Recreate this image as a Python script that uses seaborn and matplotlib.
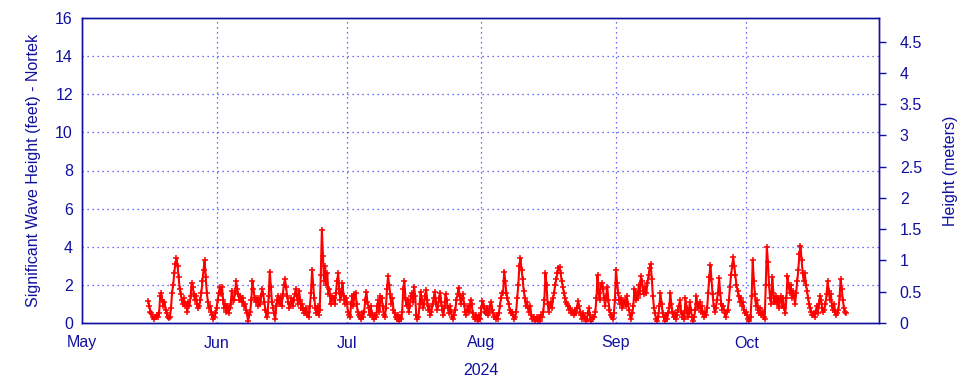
import numpy as np
import pandas as pd
import matplotlib
matplotlib.use("Agg")
import matplotlib.pyplot as plt
from matplotlib.ticker import FixedLocator, FuncFormatter
import seaborn as sns

# ---- data: significant wave height (feet), 6-hourly readings ----
start_time = "2024-05-16 06:00"
step_hours = 6

hs_may = [1.15, 0.9, 0.6,
          0.5, 0.3, 0.2, 0.3,
          0.3, 0.4, 0.3, 0.5,
          1.4, 1.55, 1.2, 0.9,
          1.1, 0.7, 0.5, 0.3,
          0.25, 0.3, 0.8, 1.6,
          2.0, 2.6, 3.1, 3.4,
          3.0, 2.4, 1.8, 1.5,
          1.2, 1.0, 1.3, 0.9,
          1.0, 0.6, 1.1, 0.9,
          1.4, 2.1, 1.9, 1.5,
          1.2, 1.4, 1.0, 0.8,
          0.9, 1.2, 1.6, 2.2,
          2.8, 3.3, 2.4, 1.6,
          1.1, 0.8, 0.9, 0.6,
          0.4, 0.2, 0.3, 0.5]
hs_jun = [0.8, 1.2, 1.6, 1.9,
          1.5, 1.9, 1.2, 0.8,
          1.0, 0.6, 0.9, 0.5,
          0.8, 1.0, 1.7, 1.2,
          1.2, 1.6, 2.2, 1.8,
          1.5, 1.2, 1.4, 1.1,
          1.3, 0.9, 1.0, 0.7,
          0.5, 0.1, 0.4, 0.6,
          1.2, 2.2, 1.8, 1.3,
          1.1, 1.3, 0.9, 1.2,
          1.0, 1.4, 1.8, 1.5,
          1.1, 0.7, 0.3, 0.5,
          1.4, 2.7, 1.9, 1.1,
          0.8, 0.5, 0.2, 0.9,
          1.2, 1.4, 1.0, 1.3,
          0.9, 1.5, 2.0, 2.3,
          1.9, 1.4, 1.1, 0.8,
          1.0, 1.3, 0.9, 1.2,
          1.5, 1.8, 1.4, 1.0,
          1.7, 1.2, 0.8, 1.0,
          0.7, 0.5, 0.8, 0.4,
          0.6, 0.3, 0.9, 1.6,
          2.8, 2.0, 1.3, 0.8,
          0.5, 0.9, 0.4, 0.7,
          2.5, 4.9, 3.5, 2.2,
          3.0, 2.0, 2.6, 1.5,
          1.8, 1.0, 1.4, 1.2,
          1.3, 1.0, 1.6, 2.2,
          2.6, 1.8, 1.2, 1.5,
          2.1, 1.4, 1.0, 1.3]
hs_jul = [1.1, 0.6, 0.4, 0.3,
          1.0, 1.4, 0.9, 1.5,
          1.6, 1.0, 0.6, 0.4,
          0.3, 0.2, 0.5, 0.3,
          0.6, 1.2, 1.65, 1.1,
          0.8, 0.4, 0.9, 0.5,
          0.3, 0.2, 0.4, 0.3,
          0.9, 1.2, 0.6, 1.4,
          1.3, 0.9, 0.4, 0.3,
          0.8, 1.8, 2.45, 2.0,
          1.5, 1.0, 1.3, 0.7,
          0.5, 0.3, 0.2, 0.4,
          0.1, 0.3, 0.2, 0.6,
          1.8, 2.2, 1.3, 0.9,
          1.2, 0.6, 0.9, 1.4,
          1.6, 1.1, 1.9, 1.4,
          0.4, 0.2, 0.3, 1.0,
          1.65, 1.2, 0.8, 1.0,
          1.4, 1.75, 1.2, 0.7,
          0.9, 0.4, 0.6, 1.0,
          1.3, 1.65, 1.1, 0.7,
          0.9, 1.3, 1.6, 1.1,
          0.7, 0.4, 0.9, 1.5,
          1.2, 0.8, 0.5, 0.9,
          0.6, 0.3, 0.2, 0.4,
          0.7, 1.2, 1.5, 1.85,
          1.4, 1.0, 1.3, 1.5,
          1.0, 0.6, 0.4, 0.7,
          0.9, 0.6, 1.2, 1.0,
          0.5, 0.3, 0.2, 0.4,
          0.3, 0.1, 0.4, 0.2]
hs_aug = [0.8, 1.15, 0.9, 0.6,
          0.5, 0.8, 0.4, 0.6,
          0.9, 1.1, 0.7, 0.5,
          0.3, 0.2, 0.4, 0.2,
          0.5, 0.9, 1.3, 1.6,
          1.6, 2.7, 2.2, 1.6,
          1.3, 1.0, 0.7, 0.5,
          0.6, 0.4, 0.2, 0.3,
          0.6, 1.3, 2.0, 3.0,
          3.4, 2.8, 2.3, 1.7,
          1.3, 0.9, 1.1, 0.8,
          0.6, 0.9, 0.4, 0.2,
          0.3, 0.1, 0.2, 0.3,
          0.15, 0.3, 0.1, 0.4,
          0.3, 0.6, 1.2, 2.6,
          2.0, 1.0, 0.6, 0.9,
          1.1, 0.8, 1.3, 1.6,
          2.0, 2.3, 2.6, 2.9,
          2.95, 2.6, 2.2, 1.9,
          1.6, 1.3, 1.1, 1.0,
          0.9, 0.7, 0.8, 0.5,
          0.6, 0.4, 0.7, 0.5,
          0.8, 1.15, 0.9, 0.6,
          0.4, 0.2, 0.5, 0.3,
          0.1, 0.2, 0.5, 0.8,
          0.4, 0.1, 0.2, 0.3,
          0.3, 0.6, 1.3, 2.5,
          1.6, 1.2, 2.0, 2.1,
          1.8, 1.3, 0.9, 1.4,
          1.9, 1.2, 0.7, 0.4,
          0.3, 0.2, 0.5, 1.2]
hs_sep = [2.8, 2.1, 1.6, 1.2,
          1.0, 1.3, 0.8, 1.1,
          1.2, 0.9, 1.4, 1.0,
          0.7, 0.4, 0.2, 0.5,
          0.9, 1.8, 1.2, 1.6,
          1.3, 2.0, 1.5, 2.45,
          2.2, 1.7, 1.5, 1.9,
          1.6, 2.1, 2.5, 2.9,
          3.1, 2.3, 1.4, 0.8,
          0.5, 0.2, 0.1, 0.3,
          0.9, 1.55, 1.0, 0.5,
          0.3, 0.1, 0.4, 0.2,
          0.5, 0.8, 1.55, 1.0,
          0.6, 0.3, 0.5, 0.2,
          0.4, 0.7, 0.9, 1.2,
          0.6, 0.3, 0.5, 0.2,
          1.3, 0.8, 0.3, 0.5,
          1.1, 0.7, 0.3, 0.1,
          0.3, 0.7, 1.4, 1.0,
          0.8, 1.1, 0.6, 0.9,
          0.5, 0.3, 0.6, 0.4,
          0.8, 1.6, 2.4, 3.05,
          2.3, 1.5, 0.9, 0.6,
          0.8, 1.2, 1.6, 2.35,
          1.6, 1.0, 0.7, 0.9,
          0.5, 0.3, 0.6, 0.7,
          1.2, 1.9, 2.5, 3.0,
          3.45, 3.0, 2.5, 2.0,
          1.7, 1.4, 1.1, 1.3,
          0.9, 1.1, 0.7, 0.5]
hs_oct = [0.6, 0.4, 0.2, 0.1,
          0.3, 1.4, 3.3, 2.2,
          1.5, 0.9, 1.2, 0.7,
          0.5, 0.8, 0.4, 0.6,
          0.3, 0.2, 2.0, 4.0,
          3.2, 2.0, 1.3, 1.0,
          2.4, 1.6, 1.1, 1.4,
          1.0, 1.3, 0.8, 1.2,
          1.4, 0.9, 1.3, 0.8,
          0.5, 1.3, 2.45, 2.0,
          1.6, 2.0, 1.3, 1.7,
          1.4, 1.0, 1.6, 2.2,
          2.8, 3.6, 4.05, 3.3,
          2.6, 2.2, 2.6, 2.0,
          1.7, 1.3, 1.0, 0.8,
          0.6, 0.4, 0.5, 0.3,
          0.6, 0.9, 0.5, 1.0,
          1.4, 1.2, 0.8, 0.6,
          0.7, 1.0, 1.5, 2.2,
          1.7, 1.2, 1.5, 0.9,
          0.7, 1.0, 0.6, 0.4,
          0.5, 0.7, 1.4, 2.3,
          1.8, 1.2, 0.8, 0.6,
          0.5]

month_ticks = ["2024-05-01", "2024-06-01", "2024-07-01", "2024-08-01",
               "2024-09-01", "2024-10-01"]
month_labels = ["May", "Jun", "Jul", "Aug", "Sep", "Oct"]
feet_ticks = [0, 2, 4, 6, 8, 10, 12, 14, 16]
meter_ticks = [0, 0.5, 1, 1.5, 2, 2.5, 3, 3.5, 4, 4.5]
year_label = "2024"
left_label = "Significant Wave Height (feet) - Nortek"
right_label = "Height (meters)"

# ---- build table ----
hs = hs_may + hs_jun + hs_jul + hs_aug + hs_sep + hs_oct
times = pd.date_range(start_time, periods=len(hs), freq=f"{step_hours}h")
df = pd.DataFrame({"time": times, "hs_ft": hs})

# ---- style ----
sns.set_theme(style="white")
plt.rcParams["font.family"] = ["Liberation Sans", "DejaVu Sans"]
navy = "#1010a0"
grid_col = "#3c3cff"
FS = 11.5

fig = plt.figure(figsize=(9.6, 3.84), dpi=100)
ax = fig.add_axes([82 / 960, 61 / 384, 797 / 960, 305 / 384])

sns.lineplot(data=df, x="time", y="hs_ft", ax=ax, color="#ff0000",
             linewidth=1.5, marker="+", markersize=5,
             markeredgewidth=1.1, markeredgecolor="#ff0000",
             estimator=None, sort=False, zorder=3)

ax.set_xlim(pd.Timestamp("2024-05-01"), pd.Timestamp("2024-10-31 14:00"))
ax.set_ylim(0, 16)
ax.set_yticks(feet_ticks)
ax.set_yticklabels([str(t) for t in feet_ticks])
ax.set_xticks(pd.to_datetime(month_ticks))
ax.set_xticklabels(month_labels)

ax.tick_params(axis="both", length=0, labelsize=FS, colors=navy)
ax.tick_params(axis="y", pad=6.5)
ax.tick_params(axis="x", pad=9)
ax.set_xlabel(year_label, fontsize=FS, color=navy, labelpad=9)
ax.set_ylabel(left_label, fontsize=FS, color=navy, labelpad=10)

for s in ax.spines.values():
    s.set_color(navy)
    s.set_linewidth(1.0)

# grid lines (interior only)
for y in feet_ticks[1:-1]:
    ax.axhline(y, color=grid_col, linestyle=(0, (1, 3)), linewidth=0.9, zorder=0)
for d in month_ticks[1:]:
    ax.axvline(pd.Timestamp(d), color=grid_col, linestyle=(0, (1, 3)),
               linewidth=0.9, zorder=0)

# right axis in meters
ax2 = ax.twinx()
ax2.set_ylim(0, 16 * 0.3048)
ax2.yaxis.set_major_locator(FixedLocator(meter_ticks))
ax2.yaxis.set_major_formatter(FuncFormatter(lambda v, p: f"{v:g}"))
ax2.tick_params(axis="y", which="major", right=True, direction="out",
                length=5, width=1.0, color=navy,
                labelcolor=navy, labelsize=FS, pad=10)
ax2.set_ylabel(right_label, fontsize=FS, color=navy, labelpad=15)
for s in ax2.spines.values():
    s.set_color(navy)
    s.set_linewidth(1.0)
ax2.grid(False)

fig.savefig("out.png", dpi=100)
